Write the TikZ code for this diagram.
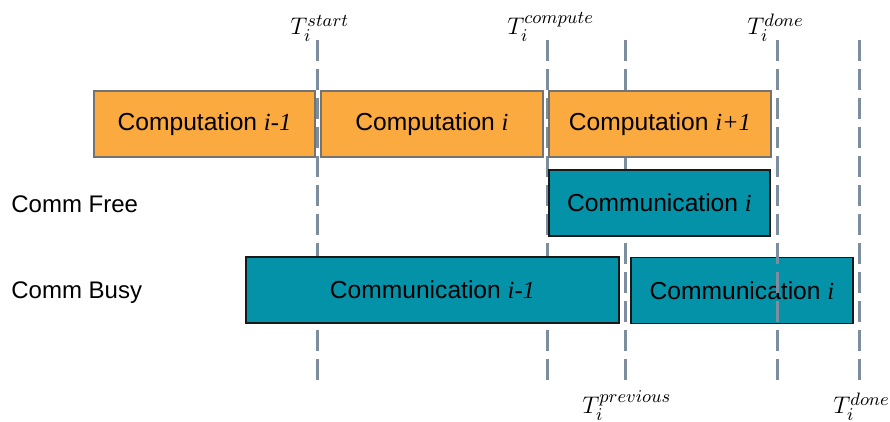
\documentclass[tikz,border=0pt]{standalone}
\usepackage{fontspec}
\setmainfont{Liberation Sans}
\newfontfamily\boxit{Liberation Serif}
\usetikzlibrary{positioning}

\definecolor{compfill}{RGB}{250,170,62}
\definecolor{commfill}{RGB}{4,146,168}
\definecolor{linegray}{RGB}{124,142,158}

\begin{document}
\begin{tikzpicture}[x=0.5pt, y=-0.5pt,
  comp/.style = {draw=black!55, fill=compfill, line width=0.7pt, inner sep=0pt, minimum height=33pt, font=\fontsize{12.3}{14}\selectfont},
  comm/.style = {draw=black!90, fill=commfill, line width=0.7pt, inner sep=0pt, minimum height=33pt, font=\fontsize{12.3}{14}\selectfont},
  tline/.style = {draw=linegray, line width=1.5pt, dash pattern=on 10.5pt off 4pt},
  tlabel/.style = {inner sep=0pt, anchor=base west, font=\fontsize{12.8}{15}\selectfont},
  rowlabel/.style = {inner sep=0pt, anchor=base west, font=\fontsize{12}{14}\selectfont}]
\useasboundingbox (0,0) rectangle (890,422);

% time marks behind the boxes
\foreach \x/\n in {317/start, 547/compute, 625/previous, 859/done2}{
  \coordinate (\n top) at (\x,40);
  \coordinate (\n bot) at (\x,382);
  \draw[tline] (\n top) -- (\n bot);
}

% computation row
\node[comp, minimum width=110.5pt] (comp0) at (204.5,124) {Computation {\boxit\itshape i-1}};
\node[comp, minimum width=111pt] (comp1) at (432,124) {Computation {\boxit\itshape i}};
\node[comp, minimum width=111pt] (comp2) at (660,124) {Computation {\boxit\itshape i+1}};

% communication rows
\node[rowlabel] (free) at (11,213) {Comm Free};
\node[rowlabel] (busy) at (11,299) {Comm Busy};
\node[comm, minimum width=110.5pt] (freei) at (659.5,203) {Communication {\boxit\itshape i}};
\node[comm, minimum width=186.5pt] (busy0) at (432.5,290) {Communication {\boxit\itshape i-1}};
\node[comm, minimum width=111pt] (busy1) at (742,290.5) {Communication {\boxit\itshape i}};

% this one runs over the last box
\coordinate (done1 top) at (777,40);
\coordinate (done1 bot) at (777,382);
\draw[tline] (done1 top) -- (done1 bot);

% labels
\node[tlabel] (Tstart) at (290,35) {$T_i^{start}$};
\node[tlabel] (Tcompute) at (507,35) {$T_i^{compute}$};
\node[tlabel] (Tdone1) at (747,35) {$T_i^{done}$};
\node[tlabel] (Tprevious) at (582,414) {$T_i^{previous}$};
\node[tlabel] (Tdone2) at (833,414) {$T_i^{done}$};
\end{tikzpicture}
\end{document}
